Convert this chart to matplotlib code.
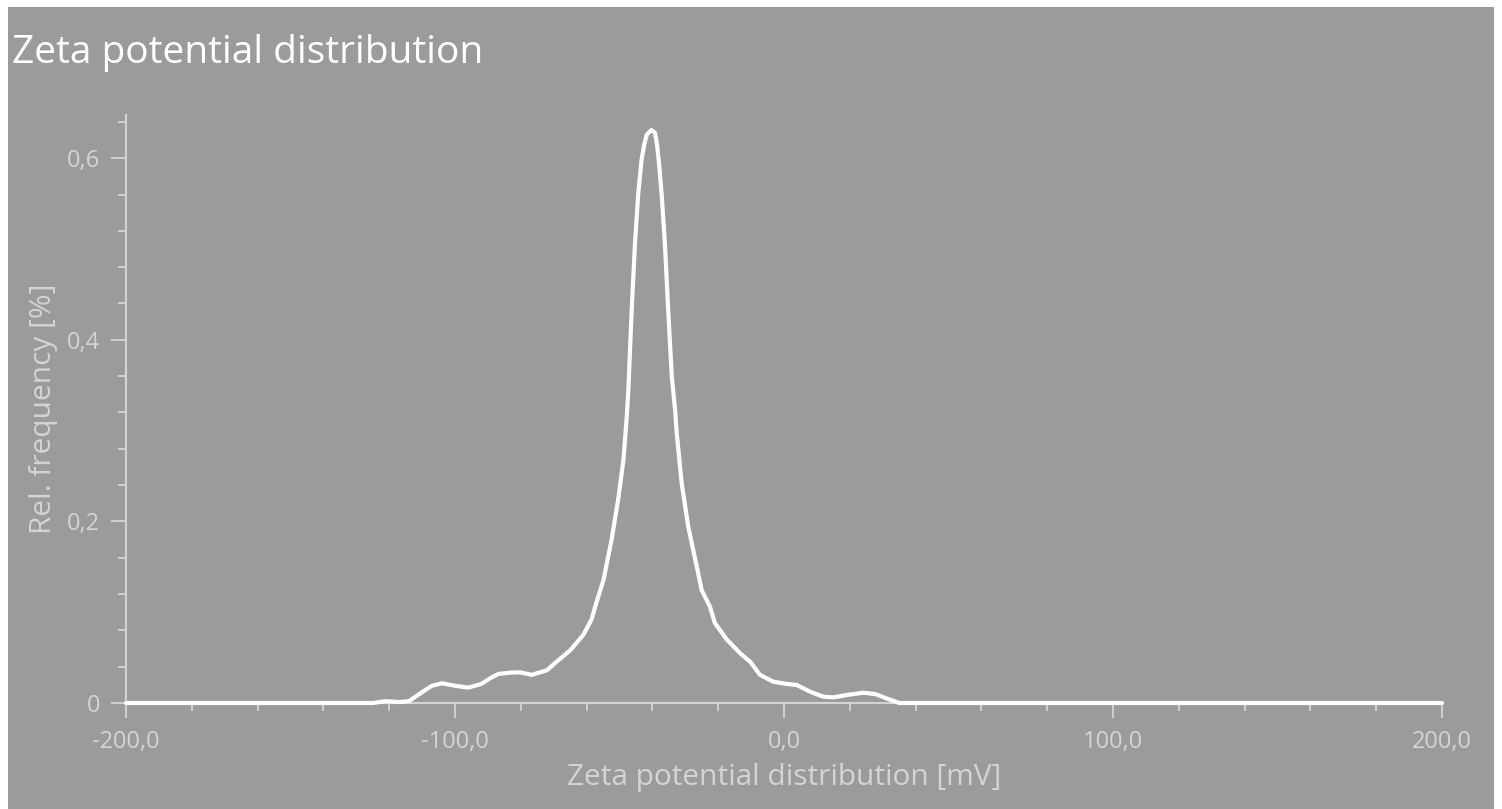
import matplotlib
matplotlib.use("Agg")
import matplotlib.pyplot as plt
from matplotlib.patches import Rectangle
from matplotlib.ticker import MultipleLocator, FuncFormatter

# zeta potential [mV] and relative frequency [%]
zeta_mv = [-200, -125, -121, -117, -114, -110, -107, -104, -100, -96, -92, -89,
           -86.8, -83, -80.2, -76.7, -72.1, -69.1, -65.0, -61.0, -58.5, -56.9,
           -54.9, -52.4, -50.4, -48.8, -47.8, -47.3, -46.3, -45.3, -44.3, -43.3,
           -42.5, -41.7, -40.3, -39.2, -38.6, -38.0, -37.2, -36.2, -35.2, -34.1, -33.1, -32.6,
           -31.1, -29.1, -26.5, -25.0, -22.5, -21.0, -17.4, -13.4, -10.3, -7.3,
           -3.3, 0.8, 3.9, 7.9, 11.9, 15.0, 19.0, 24.1, 27.7, 31.2, 33.2, 35, 200]
rel_freq = [0, 0, 0.002, 0.001, 0.002, 0.012, 0.019, 0.0217, 0.019, 0.0169, 0.021, 0.028,
            0.032, 0.0335, 0.0338, 0.031, 0.036, 0.0455, 0.058, 0.075, 0.092, 0.112,
            0.135, 0.18, 0.224, 0.268, 0.315, 0.345, 0.433, 0.506, 0.561, 0.598,
            0.615, 0.626, 0.631, 0.628, 0.615, 0.595, 0.561, 0.506, 0.433, 0.359, 0.323, 0.297,
            0.242, 0.194, 0.150, 0.124, 0.106, 0.088, 0.070, 0.055, 0.0455, 0.031,
            0.0235, 0.021, 0.0198, 0.0125, 0.007, 0.0062, 0.0088, 0.0113, 0.0099, 0.005, 0.0025, 0, 0]

x_ticks = [-200, -100, 0, 100, 200]
y_ticks = [0, 0.2, 0.4, 0.6]

bg = "#9b9b9b"
fg = "#d4d4d4"
plt.rcParams["font.family"] = ["Open Sans", "DejaVu Sans"]

fig = plt.figure(figsize=(15.02, 8.09), dpi=100, facecolor="white")
# grey panel with a thin white margin at left, top and right
fig.patches.append(Rectangle((8 / 1502, 0), (1494 - 8) / 1502, 1 - 7 / 809,
                             transform=fig.transFigure, facecolor=bg,
                             edgecolor="none", zorder=-10))

ax = fig.add_axes([126 / 1502, 1 - 703 / 809, 1316 / 1502, (703 - 115) / 809])
ax.set_zorder(1)
ax.set_facecolor(bg)
ax.plot(zeta_mv, rel_freq, color="white", lw=3.0, clip_on=False,
        solid_joinstyle="round", solid_capstyle="round", zorder=5)

ax.set_xlim(-200, 200)
ax.set_ylim(0, 0.6476)
for side in ["top", "right"]:
    ax.spines[side].set_visible(False)
for side in ["left", "bottom"]:
    ax.spines[side].set_color(fg)
    ax.spines[side].set_linewidth(1.5)

ax.set_xticks(x_ticks)
ax.set_yticks(y_ticks)
ax.xaxis.set_minor_locator(MultipleLocator(20))
ax.yaxis.set_minor_locator(MultipleLocator(0.04))
ax.xaxis.set_major_formatter(FuncFormatter(lambda v, p: f"{v:.1f}".replace(".", ",")))
ax.yaxis.set_major_formatter(FuncFormatter(lambda v, p: "0" if v == 0 else f"{v:.1f}".replace(".", ",")))
ax.tick_params(which="major", length=10.5, width=1.3, color=fg, labelcolor=fg,
               labelsize=17, direction="out")
ax.tick_params(which="minor", length=6, width=1.3, color=fg, direction="out")
ax.tick_params(axis="x", which="major", pad=9)
ax.tick_params(axis="y", which="major", pad=8)

ax.set_xlabel("Zeta potential distribution [mV]", color=fg, fontsize=21.5)
ax.xaxis.set_label_coords(0.5, -(777 - 703) / 588)
ax.xaxis.label.set_verticalalignment("center")
ax.set_ylabel("Rel. frequency [%]", color=fg, fontsize=21.5)
ax.yaxis.set_label_coords((44 - 126) / 1316, 0.5)
ax.yaxis.label.set_verticalalignment("center")

fig.text(12 / 1502, 1 - 63 / 809, "Zeta potential distribution", color="white",
         fontsize=28, ha="left", va="baseline")

fig.savefig("out.png", dpi=100, facecolor=fig.get_facecolor())
